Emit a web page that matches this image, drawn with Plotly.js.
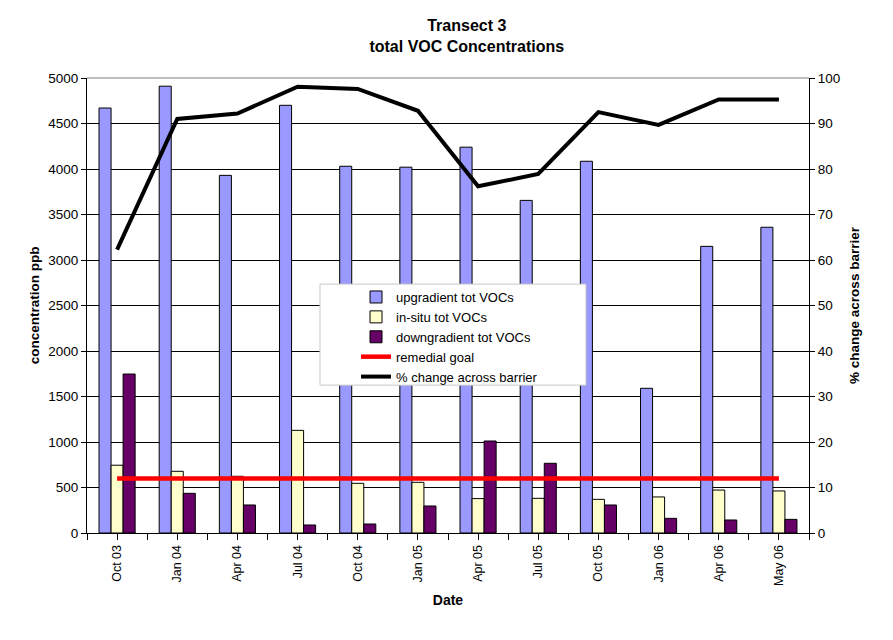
<!DOCTYPE html>
<html>
<head>
<meta charset="utf-8">
<script src="https://cdn.plot.ly/plotly-3.0.1.min.js"></script>
<style>html,body{margin:0;padding:0;background:#fff;}#chart{width:893px;height:640px;}</style>
</head>
<body>
<div id="chart"></div>
<script>
const categories = ["Oct 03","Jan 04","Apr 04","Jul 04","Oct 04","Jan 05","Apr 05","Jul 05","Oct 05","Jan 06","Apr 06","May 06"];
const upgradient = [4670, 4910, 3930, 4700, 4030, 4020, 4240, 3655, 4085, 1590, 3150, 3360];
const insitu = [745, 678, 623, 1128, 546, 557, 378, 381, 370, 396, 472, 462];
const downgradient = [1747, 436, 308, 88, 99, 297, 1011, 766, 308, 161, 143, 150];
const remedialGoal = [600, 600, 600, 600, 600, 600, 600, 600, 600, 600, 600, 600];
const pctChange = [62.3, 91.0, 92.2, 98.1, 97.6, 92.8, 76.2, 78.9, 92.5, 89.7, 95.3, 95.3];

const xs = categories.map((c, i) => i);
const FONT = "Liberation Sans, Arial, sans-serif";

const traces = [
  {type: "bar", name: "upgradient tot VOCs", x: xs, y: upgradient,
   marker: {color: "#9999FF", line: {color: "#000", width: 1}}},
  {type: "bar", name: "in-situ tot VOCs", x: xs, y: insitu,
   marker: {color: "#FFFFCC", line: {color: "#000", width: 1}}},
  {type: "bar", name: "downgradient tot VOCs", x: xs, y: downgradient,
   marker: {color: "#660066", line: {color: "#000", width: 1}}},
  {type: "scatter", mode: "lines", name: "remedial goal", x: xs, y: remedialGoal,
   line: {color: "#FF0000", width: 4.5}},
  {type: "scatter", mode: "lines", name: "% change across barrier", x: xs, y: pctChange,
   yaxis: "y2", line: {color: "#000", width: 4}}
];

const layout = {
  width: 893, height: 640,
  margin: {l: 87, r: 84, t: 78, b: 107},
  paper_bgcolor: "#fff", plot_bgcolor: "#fff",
  font: {family: FONT, size: 12, color: "#000"},
  title: {text: "<b>Transect 3<br>total VOC Concentrations</b>", x: 0.526, xref: "paper", xanchor: "center",
          y: 0.952, yanchor: "top",
          font: {family: FONT, size: 16, color: "#000"}},
  barmode: "group", bargap: 0.4, bargroupgap: 0,
  showlegend: true,
  legend: {x: 0.3726, y: 0.5516, xanchor: "left", yanchor: "top", bgcolor: "rgba(0,0,0,0)",
           borderwidth: 0, font: {family: FONT, size: 13}, tracegroupgap: 0, itemwidth: 30},
  xaxis: {range: [-0.5, 11.5], tickmode: "array", tickvals: xs, ticktext: categories,
          tickangle: -90, ticks: "outside", ticklen: 6, tickcolor: "#000",
          minor: {tickmode: "linear", tick0: -0.5, dtick: 1, ticks: "outside", ticklen: 6, tickcolor: "#000", showgrid: false},
          showline: true, linecolor: "#000", linewidth: 1, showgrid: false, zeroline: false,
          tickfont: {family: FONT, size: 12.5},
          title: {text: "<b>Date</b>", font: {family: FONT, size: 14}, standoff: 10}},
  yaxis: {range: [0, 5000], tickmode: "linear", tick0: 0, dtick: 500, ticks: "outside", ticklen: 5, tickcolor: "#000",
          showline: true, linecolor: "#000", linewidth: 1, showgrid: true, gridcolor: "#000", gridwidth: 1,
          zeroline: false, tickfont: {family: FONT, size: 13.5},
          title: {text: "<b>concentration ppb</b>", font: {family: FONT, size: 13.5}, standoff: 5}},
  yaxis2: {range: [0, 100], overlaying: "y", side: "right", tickmode: "linear", tick0: 0, dtick: 10,
           ticks: "outside", ticklen: 5, tickcolor: "#000", showline: true, linecolor: "#000", linewidth: 1,
           showgrid: false, zeroline: false, tickfont: {family: FONT, size: 13.5},
           title: {text: "<b>% change across barrier</b>", font: {family: FONT, size: 13.5}, standoff: 10}},
  shapes: [
    {type: "line", xref: "paper", yref: "paper", x0: 0, x1: 1, y0: 1, y1: 1, line: {color: "#808080", width: 1}, layer: "above"},
    {type: "rect", xref: "paper", yref: "paper", x0: 0.3227, x1: 0.6911, y0: 0.547, y1: 0.325,
     fillcolor: "#fff", line: {color: "#C8C8C8", width: 1}, layer: "above"}
  ]
};

Plotly.newPlot("chart", traces, layout, {displayModeBar: false, staticPlot: true});
</script>
</body>
</html>
